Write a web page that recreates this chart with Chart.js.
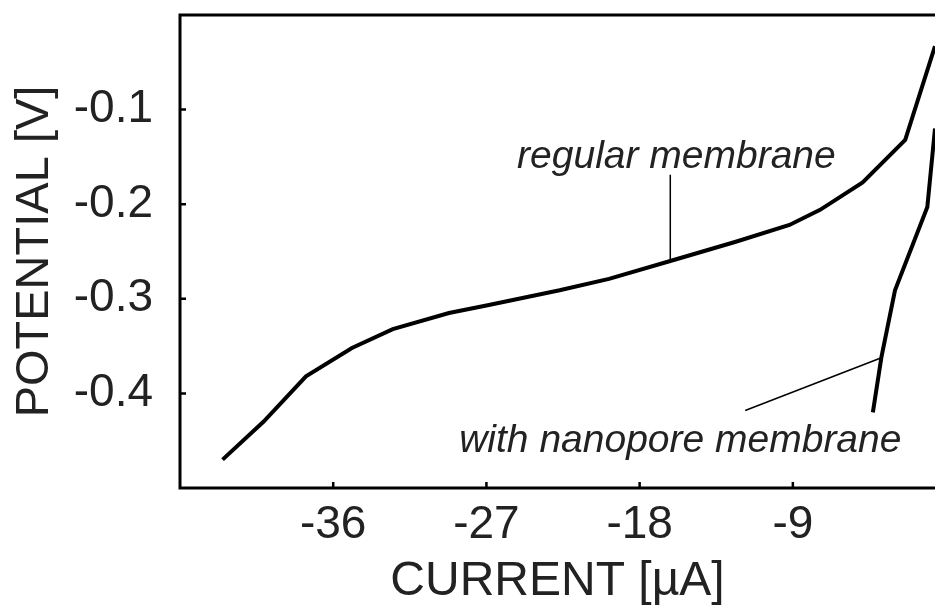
<!DOCTYPE html>
<html>
<head>
<meta charset="utf-8">
<script src="https://cdn.jsdelivr.net/npm/chart.js@4"></script>
<style>
  html, body { margin: 0; padding: 0; background: #fff; overflow: hidden; }
  canvas { display: block; }
</style>
</head>
<body>
<canvas id="ivChart" width="935" height="614"></canvas>
<script>
// current [µA] vs potential [V]
const regularCurrent = [-42.5, -40.1, -37.6, -34.9, -32.5, -29.2, -27.0, -22.7, -19.8, -16.2, -12.4, -9.2, -7.4, -4.9, -2.4, -0.65];
const regularPotential = [-0.470, -0.430, -0.382, -0.352, -0.332, -0.315, -0.307, -0.291, -0.279, -0.260, -0.240, -0.222, -0.206, -0.177, -0.132, -0.033];

const nanoporeCurrent = [-4.3, -3.8, -3.0, -1.1, -0.65];
const nanoporePotential = [-0.420, -0.362, -0.291, -0.203, -0.120];

// pointer lines for the two labels
const regularPointerX = [-16.2, -16.2];
const regularPointerY = [-0.169, -0.260];
const nanoporePointerX = [-11.8, -3.76];
const nanoporePointerY = [-0.418, -0.362];

const xTicks = [-36, -27, -18, -9];
const yTicks = [-0.4, -0.3, -0.2, -0.1];

const labels = [
    { text: 'regular membrane', x: -25.2, y: -0.1615 },
    { text: 'with nanopore membrane', x: -28.6, y: -0.4616 },
];

const toPoints = (xs, ys) => xs.map((x, i) => ({ x: x, y: ys[i] }));

const frame = {
    id: 'frame',
    afterDraw(chart) {
        const { ctx, chartArea: a, scales } = chart;
        ctx.save();
        ctx.strokeStyle = '#000';
        ctx.lineWidth = 3;
        ctx.beginPath();
        ctx.moveTo(a.right + 2, a.top);
        ctx.lineTo(a.left, a.top);
        ctx.lineTo(a.left, a.bottom);
        ctx.lineTo(a.right + 2, a.bottom);
        ctx.stroke();
        // inward tick marks
        ctx.lineWidth = 2.5;
        ctx.beginPath();
        xTicks.forEach(v => {
            const px = scales.x.getPixelForValue(v);
            ctx.moveTo(px, a.bottom);
            ctx.lineTo(px, a.bottom - 6);
        });
        yTicks.forEach(v => {
            const py = scales.y.getPixelForValue(v);
            ctx.moveTo(a.left, py);
            ctx.lineTo(a.left + 6, py);
        });
        ctx.stroke();
        // curve labels
        ctx.fillStyle = '#222';
        ctx.font = 'italic 39px "Liberation Sans", Arial, sans-serif';
        ctx.textAlign = 'left';
        ctx.textBaseline = 'alphabetic';
        labels.forEach(l => {
            ctx.fillText(l.text, scales.x.getPixelForValue(l.x), scales.y.getPixelForValue(l.y));
        });
        ctx.restore();
    }
};

const tickFont = { family: '"Liberation Sans", Arial, sans-serif', size: 46 };
const titleFont = { family: '"Liberation Sans", Arial, sans-serif', size: 48 };

new Chart(document.getElementById('ivChart').getContext('2d'), {
    type: 'line',
    data: {
        datasets: [{
                label: 'regular membrane',
                data: toPoints(regularCurrent, regularPotential),
                borderColor: '#000',
                borderWidth: 4,
                pointRadius: 0,
                tension: 0,
            },
            {
                label: 'with nanopore membrane',
                data: toPoints(nanoporeCurrent, nanoporePotential),
                borderColor: '#000',
                borderWidth: 4,
                pointRadius: 0,
                tension: 0,
            },
            {
                label: 'pointer regular',
                data: toPoints(regularPointerX, regularPointerY),
                borderColor: '#000',
                borderWidth: 1.5,
                pointRadius: 0,
            },
            {
                label: 'pointer nanopore',
                data: toPoints(nanoporePointerX, nanoporePointerY),
                borderColor: '#000',
                borderWidth: 1.5,
                pointRadius: 0,
            }
        ]
    },
    options: {
        responsive: false,
        animation: false,
        layout: { padding: { top: 15, right: 0, left: 0, bottom: 0 } },
        plugins: { legend: { display: false }, tooltip: { enabled: false } },
        scales: {
            x: {
                type: 'linear',
                position: 'bottom',
                min: -45,
                max: -0.65,
                afterFit: s => { s.height = 126; s.paddingLeft = 0; s.paddingRight = 0; },
                afterBuildTicks: s => { s.ticks = xTicks.map(v => ({ value: v })); },
                grid: { display: false },
                border: { display: false },
                ticks: {
                    font: tickFont,
                    color: '#222',
                    padding: 2,
                    maxRotation: 0,
                    autoSkip: false,
                    callback: v => String(v),
                },
                title: {
                    display: true,
                    text: 'CURRENT [µA]',
                    font: titleFont,
                    color: '#222',
                    padding: { top: 3, bottom: 3 },
                },
            },
            y: {
                type: 'linear',
                min: -0.5,
                max: 0,
                afterFit: s => { s.width = 180; s.paddingTop = 0; s.paddingBottom = 0; },
                afterBuildTicks: s => { s.ticks = yTicks.map(v => ({ value: v })); },
                grid: { display: false },
                border: { display: false },
                ticks: {
                    font: tickFont,
                    color: '#222',
                    padding: 19,
                    autoSkip: false,
                    callback: v => v.toFixed(1),
                },
                title: {
                    display: true,
                    text: 'POTENTIAL [V]',
                    font: { family: '"Liberation Sans", Arial, sans-serif', size: 47 },
                    color: '#222',
                    padding: { top: 7, bottom: 7 },
                },
            }
        }
    },
    plugins: [frame],
});
</script>
</body>
</html>
